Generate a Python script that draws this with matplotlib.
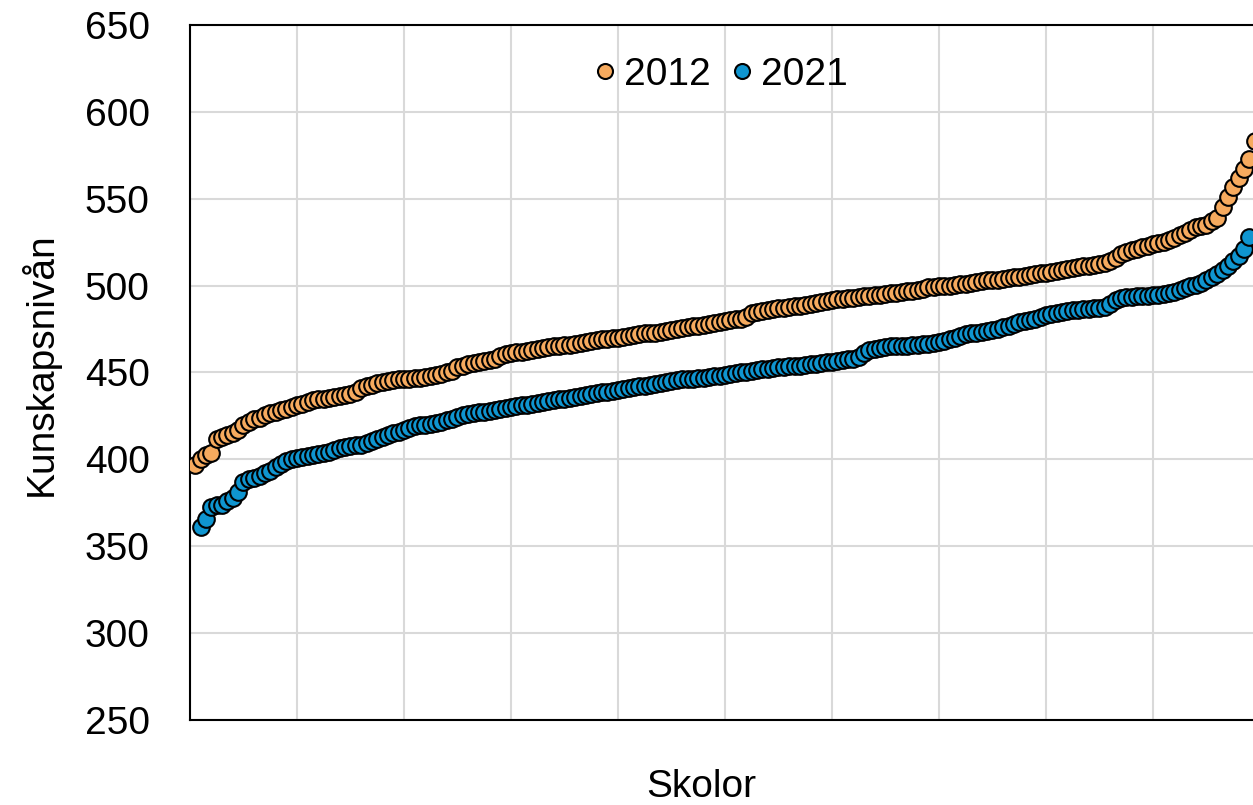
import matplotlib.pyplot as plt

# Kunskapsnivå per skola, sorterad (2012 och 2021)
v2012 = [397, 400, 402.5, 403.5, 412, 413, 414, 415, 417, 420,
         421.5, 423, 424, 425.5, 426.5, 427.5, 428.5, 429, 430, 431,
         432, 433, 434, 434.5, 435, 435.5, 436, 436.5, 437, 437.5,
         439, 441, 442, 443, 444, 444.5, 445, 445.5, 446, 446,
         446.5, 447, 447, 447.5, 448, 448.5, 449, 450, 451, 453,
         454, 455, 455.5, 456, 456.5, 457, 458, 459.5, 460.5, 461,
         461.5, 462, 462.5, 463, 463.5, 464, 464.5, 465, 465.5, 466,
         466, 466.5, 467, 467.5, 468, 468.5, 469, 469.5, 470, 470,
         470.5, 471, 471.5, 472, 472.5, 473, 473, 473.5, 474, 474.5,
         475, 475.5, 476, 476.5, 477, 477.5, 478, 478.5, 479, 479.5,
         480, 480.5, 481, 482, 484, 485, 485.5, 486, 486.5, 487,
         487, 487.5, 488, 488.5, 489, 489.5, 490, 490.5, 491, 491.5,
         492, 492.5, 493, 493, 493.5, 494, 494, 494.5, 494.5, 495,
         495.5, 496, 496.5, 497, 497, 497.5, 498, 499, 499, 499.5,
         500, 500, 500.5, 501, 501, 501.5, 502, 502.5, 503, 503,
         503.5, 504, 504.5, 505, 505, 505.5, 506, 506.5, 507, 507.5,
         508, 508.5, 509, 509.5, 510, 510.5, 511, 511.5, 512, 512.5,
         513, 514, 516, 518, 519.5, 520.5, 521, 522, 523, 524,
         524.5, 525, 526, 527.5, 529, 530.5, 532, 533.5, 534.5, 535,
         537, 539, 545, 551, 557, 562, 567, 573, 583]

v2021 = [361, 365.5, 372.5, 373.5, 374, 376, 378, 381, 387,
         388.5, 389.5, 390.5, 392, 393.5, 395.5, 397.5, 399, 400, 401,
         401.5, 402, 402.5, 403, 403.5, 404.5, 405.5, 406.5, 407, 407.5,
         408, 408.5, 409.5, 410.5, 412, 413, 414, 415, 416, 417,
         418, 419, 419.5, 420, 420.5, 421, 421.5, 422.5, 423.5, 424.5,
         425.5, 426, 426.5, 427, 427.5, 428, 428.5, 429, 429.5, 430,
         430.5, 431, 431.5, 432, 432.5, 433, 433.5, 434, 434.5, 435,
         435.5, 436, 436.5, 437, 437.5, 438, 438.5, 439, 439.5, 440,
         440.5, 441, 441.5, 442, 442.5, 443, 443.5, 444, 444.5, 445,
         445.5, 446, 446, 446.5, 447, 447, 447.5, 448, 448, 448.5,
         449, 449.5, 450, 450.5, 451, 451.5, 452, 452, 452.5, 453,
         453, 453.5, 454, 454, 454.5, 455, 455, 455.5, 456, 456,
         456.5, 457, 457.5, 458, 459, 461, 463, 463.5, 464, 464.5,
         465, 465, 465.5, 465.5, 466, 466, 466.5, 466.5, 467, 467.5,
         468, 469, 470, 471, 472, 472.5, 473, 473.5, 474, 474.5,
         475, 476, 477, 478, 479, 479.5, 480, 481, 482, 483,
         483.5, 484, 485, 485.5, 486, 486, 486.5, 486.5, 487, 487,
         487.5, 489.5, 491.5, 493, 493.5, 493.5, 494, 494, 494, 494.5,
         494.5, 495, 495.5, 496.5, 497.5, 498.5, 499.5, 500.5, 501.5, 503,
         505, 506.5, 509, 511, 514, 517, 521, 528]

x2012 = list(range(1, len(v2012) + 1))
x2021 = list(range(2, len(v2021) + 2))

plt.rcParams['font.family'] = ['Liberation Sans', 'DejaVu Sans']

fig = plt.figure(figsize=(12.53, 8.05), dpi=100)
ax = fig.add_axes([0.1516, 0.1056, 0.8484, 0.8634])

ax.plot(x2012, v2012, 'o', ms=12, mfc='#F6AA5E', mec='black', mew=1.5, label='2012', zorder=3)
ax.plot(x2021, v2021, 'o', ms=12, mfc='#0F95D0', mec='black', mew=1.5, label='2021', zorder=4)

ax.set_xlim(0, 198.7)
ax.set_ylim(250, 650)
ax.set_xticks(range(0, 200, 20))
ax.set_yticks(range(250, 651, 50))
ax.set_xticklabels([])
ax.tick_params(axis='both', length=0, labelsize=28, pad=29)
ax.grid(True, color='#d9d9d9', linewidth=1.5, zorder=0)
ax.set_axisbelow(True)
for side in ['left', 'top', 'bottom']:
    ax.spines[side].set_linewidth(1.5)
    ax.spines[side].set_color('black')
ax.spines['right'].set_visible(False)

fig.text(0.032, 0.547, 'Kunskapsnivån', rotation=90, fontsize=28, ha='center', va='center')
fig.text(0.56, 0.022, 'Skolor', fontsize=28, ha='center', va='center')

ax.legend(loc='center', bbox_to_anchor=(0.572, 0.907), bbox_transform=fig.transFigure,
          ncol=2, frameon=False, fontsize=28, handletextpad=0.0, columnspacing=0.3,
          handlelength=1.0, markerscale=0.9)

fig.savefig('out.png', dpi=100)
